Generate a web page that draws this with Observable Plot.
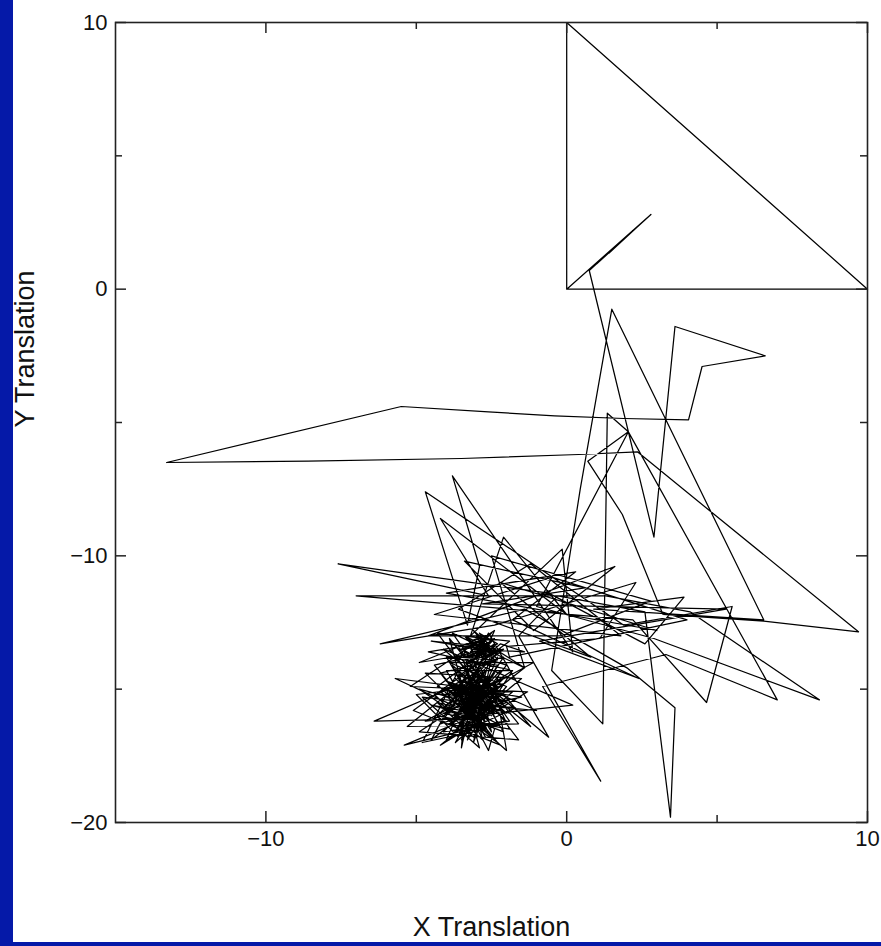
<!DOCTYPE html>
<html><head><meta charset="utf-8">
<script src="https://cdn.jsdelivr.net/npm/d3@7"></script>
<script src="https://cdn.jsdelivr.net/npm/@observablehq/plot@0.6"></script>
<style>
html,body{margin:0;padding:0;background:#0519a8;width:881px;height:946px;overflow:hidden}
#chart{position:absolute;left:13px;top:0;width:868px;height:942px;background:#fff}
svg{display:block}
</style></head><body><div id="chart"></div>
<script>
// Trajectory (X Translation, Y Translation), in drawing order, split into pieces
const insetLoop = [[0,0],[0,10],[10,0],[0,0],[2.8,2.8],[1.0,0.95],[2.55,2.55],[1.4,1.35],[2.2,2.2],[0.75,0.7]];
const upperExcursion = [[2.9,-9.3],[3.6,-1.4],[6.6,-2.5],[4.5,-2.9],[4.05,-4.9],[1.9,-4.85],[-0.4,-4.75],[-2.6,-4.6],[-5.5,-4.4],
  [-13.3,-6.5],[-8.6,-6.45],[-3.5,-6.35],[0.4,-6.2],[2.35,-6.1],[9.7,-12.85],[6.55,-12.45],[3.2,-12.2],[1.85,-8.45],
  [0.7,-6.45],[2.05,-5.35],[1.35,-4.65],[1.2,-16.3],[-0.5,-14.3],[0.45,-7.5],[1.5,-0.75],[6.55,-12.4],[0.9,-12.0]];
const middleTangle = [[3.9,-11.55],[2.6,-13.3],[-0.6,-11.4],[-7.6,-10.3],[-2.6,-11.5],[-4.2,-8.6],[0.0,-12.2],[-2.1,-9.3],
  [-3.2,-13.0],[-0.15,-9.75],[0.2,-13.6],[-3.8,-7.0],[-2.9,-10.4],[-3.3,-12.6],[-4.7,-7.6],[1.9,-12.6],[5.5,-11.9],
  [4.65,-15.5],[2.2,-12.4],[-7.0,-11.5],[1.3,-11.5],[4.1,-12.1],[8.4,-15.4],[2.9,-13.1],[-1.0,-11.9],[2.05,-5.35],
  [7.0,-15.4],[3.3,-13.7],[-0.8,-14.9],[1.13,-18.45],[-1.6,-13.0],[-0.3,-11.5],[2.6,-12.1],[3.45,-19.8],[3.6,-15.7],
  [2.0,-14.2],[-1.4,-12.0],[-6.2,-13.3],[-2.4,-12.6],[2.3,-11.0],[1.1,-13.1],[-2.0,-13.4]];
const tangleMore = [[-1.9,-13.8],[4.0,-12.4],[-0.5,-10.8],[-4.4,-12.2],[1.8,-13.0],[-1.2,-10.3],[-3.6,-12.0],[0.8,-13.8],
  [-2.2,-11.0],[3.0,-12.8],[-4.0,-11.4],[0.3,-10.6],[-1.8,-12.4],[2.4,-14.6],[-0.9,-13.2],[5.3,-12.0],[-2.8,-11.8],
  [0.6,-11.2],[-3.4,-10.2],[-1.1,-12.8],[1.6,-10.4],[-4.6,-13.0],[-0.2,-13.0],[2.8,-11.7],[-2.5,-10.0],[-1.4,-14.2]];
const upperBlob = [[-2.8,-13.2],[-3.2,-13.6],[-2.5,-13.5],[-3.0,-13.0],[-2.6,-13.8],[-3.3,-13.3],[-2.4,-13.1],[-2.9,-13.7],
  [-3.4,-13.0],[-2.7,-13.4],[-4.5,-13.2],[-2.3,-13.6],[-3.1,-13.9],[-2.6,-13.0],[-3.5,-13.5],[-2.8,-13.9],[-2.2,-13.3],
  [-1.4,-13.6],[-3.0,-13.5],[-2.5,-12.9],[-3.2,-13.2],[-2.7,-13.7],[-3.6,-13.8],[-2.4,-13.9],[-2.9,-13.1],[-4.9,-14.0],
  [-3.3,-13.7],[-2.6,-13.3],[-3.1,-12.8],[-2.3,-13.9],[-3.0,-14.1],[-2.7,-13.1],[-3.4,-13.5],
  [-2.9,-13.4],[-2.5,-13.2],[-3.1,-13.5],[-2.6,-13.6],[-3.3,-13.1],[-2.8,-13.8],[-2.4,-13.4],[-3.0,-13.7],[-2.7,-13.0],
  [-3.2,-13.9],[-2.5,-13.7],[-2.9,-12.9],[-2.3,-13.3],[-3.4,-13.8],[-2.6,-13.5],[-3.0,-13.3]];
const clusterFringe = [[-4.6,-13.6],[-1.8,-14.3],[-4.9,-16.6],[-1.6,-16.9],[-4.3,-12.9],[-1.9,-13.2],[-5.1,-15.8],[-2.2,-17.1],
  [-4.7,-14.4],[-1.5,-14.6],[-4.2,-17.1],[-1.3,-15.1],[-5.2,-14.9],[-2.4,-12.8],[-4.0,-16.9],[-1.7,-15.7],[-4.8,-15.3],
  [-2.9,-17.2],[-3.9,-13.1],[-1.6,-16.3],[-5.3,-16.4],[-2.1,-13.5],[-4.4,-14.1],[-2.3,-17.0],[-4.9,-15.0],[-1.9,-15.9],
  [-3.8,-12.9],[-1.4,-14.2],[-4.5,-16.9],[-2.6,-12.9],[-0.6,-16.8],[-4.1,-13.5],[0.2,-15.6],[-4.7,-16.2],[-1.1,-14.0]];
const clusterCore = [[-3.9,-14.0],[-2.0,-14.9],[-3.5,-16.9],[-2.3,-13.8],[-4.1,-15.7],[-2.1,-16.6],[-3.7,-13.7],[-1.9,-15.4],
  [-4.2,-16.3],[-2.5,-13.6],[-3.3,-16.9],[-1.8,-14.3],[-4.0,-14.3],[-2.7,-16.8],[-3.8,-14.1],[-2.0,-15.9],[-4.3,-14.9],
  [-2.4,-13.3],[-3.1,-17.0],[-2.2,-14.3],[-4.1,-16.6],[-1.9,-16.2],[-3.6,-13.4],[-2.6,-16.7],[-4.2,-14.4],[-2.1,-13.8],
  [-3.9,-16.9],[-2.0,-14.1],[-3.4,-13.6],[-2.8,-16.9],[-4.4,-15.2],[-1.8,-15.1],[-3.7,-17.0],[-2.3,-14.1],[-4.0,-13.8],
  [-2.5,-16.6],[-3.2,-13.4],[-1.9,-16.5],[-4.3,-16.0],[-2.2,-13.5]];
const lowerBlob = [[-3.6,-14.5],[-2.5,-14.8],[-3.2,-15.4],[-2.2,-15.1],[-5.7,-14.6],[-3.8,-15.6],[-2.7,-14.3],[-3.4,-16.0],
  [-2.4,-15.7],[-3.9,-14.8],[-2.9,-15.5],[-2.1,-14.6],[-3.5,-15.2],[-2.6,-16.1],[-6.4,-16.2],[-3.1,-14.6],[-4.0,-15.3],
  [-2.8,-15.0],[-2.3,-16.3],[-3.3,-15.7],[-1.5,-15.3],[-3.7,-14.9],[-2.5,-15.3],[-3.0,-16.2],[-4.1,-15.9],[-2.7,-15.8],
  [-3.4,-14.7],[-2.0,-15.5],[-5.4,-17.1],[-3.2,-16.5],[-3.6,-15.1],[-2.6,-14.6],[-3.9,-16.3],[-2.9,-14.8],[-2.2,-16.0],
  [-2.0,-17.3],[-3.5,-15.8],[-3.0,-15.2],[-2.4,-14.4],[-3.7,-16.6],[-2.8,-16.0],[-3.3,-14.5],[-1.2,-16.4],[-2.1,-15.2],
  [-3.8,-15.2],[-2.6,-15.5],[-3.1,-16.8],[-4.3,-15.5],[-2.9,-15.9],[-2.3,-14.9],[-3.4,-15.4],[-2.7,-16.5],[-4.8,-17.0],
  [-3.6,-14.3],[-2.5,-16.0],[-4.0,-14.7],[-3.2,-15.0],[-2.0,-16.2],[-3.5,-16.4],[-2.8,-14.5],[-3.9,-15.5],[-1.0,-15.8],
  [-2.4,-15.1],[-3.0,-16.6],[-4.4,-16.1],[-2.6,-15.0],[-3.3,-16.1],[-2.2,-15.8],[-3.7,-15.4],[-2.9,-14.2],[-3.5,-17.2],
  [-3.4,-15.9],[-2.5,-15.5],[-3.1,-15.6],[-3.8,-16.0],[-2.7,-15.2],[-2.1,-14.8],[-5.0,-15.2],[-3.6,-16.8],[-3.0,-14.4],
  [-4.2,-15.1],[-2.8,-16.3],[-3.3,-15.2],[-2.4,-16.5],[-2.6,-17.3],[-3.9,-14.5],[-3.2,-15.8],[-2.6,-14.8],[-3.5,-15.0],
  [-2.3,-15.4],[-3.0,-15.9],[-4.5,-15.6],[-2.9,-16.1],[-3.6,-15.6],[-2.2,-14.9],
  [-3.4,-15.1],[-2.8,-15.6],[-3.7,-14.6],[-3.1,-15.3],[-2.5,-14.5],[-3.3,-15.9],[-2.9,-15.0],[-3.6,-15.9],[-2.7,-14.7],
  [-3.2,-14.8],[-3.9,-15.1],[-2.4,-15.9],[-3.0,-14.9],[-3.5,-15.5],[-2.6,-15.7],[-3.8,-14.8],[-3.1,-15.0],[-2.8,-14.4]];

const xMajorTicks = [-10, 0, 10];
const xMinorTicks = [-5, 5];
const yMajorTicks = [10, 0, -10, -20];
const yMinorTicks = [5, -5, -15];
const xLabel = "X Translation";
const yLabel = "Y Translation";

const path = [...insetLoop, ...upperExcursion, ...middleTangle, ...tangleMore, ...upperBlob, ...clusterFringe,
  ...clusterCore, ...lowerBlob].map(([x, y]) => ({x, y}));

const W = 868, H = 942, mL = 102, mR = 14, mT = 22, mB = 120;
const fw = W - mL - mR, fh = H - mT - mB;
const tickStyle = {stroke: "#222", strokeWidth: 1.5};

const chart = Plot.plot({
  width: W, height: H,
  marginLeft: mL, marginRight: mR, marginTop: mT, marginBottom: mB,
  style: {fontFamily: "'Liberation Sans', Arial, Helvetica, sans-serif", background: "white", color: "#111", overflow: "visible"},
  x: {domain: [-15, 10]},
  y: {domain: [-20, 10]},
  marks: [
    Plot.line(path, {x: "x", y: "y", stroke: "black", strokeWidth: 1.25}),
    Plot.tickX(xMajorTicks, {x: d => d, insetTop: fh - 11, ...tickStyle}),
    Plot.tickX(xMinorTicks, {x: d => d, insetTop: fh - 7, ...tickStyle}),
    Plot.tickX(xMajorTicks, {x: d => d, insetBottom: fh - 11, ...tickStyle}),
    Plot.tickX(xMinorTicks, {x: d => d, insetBottom: fh - 7, ...tickStyle}),
    Plot.tickY(yMajorTicks, {y: d => d, insetRight: fw - 11, ...tickStyle}),
    Plot.tickY(yMinorTicks, {y: d => d, insetRight: fw - 7, ...tickStyle}),
    Plot.tickY(yMajorTicks, {y: d => d, insetLeft: fw - 11, ...tickStyle}),
    Plot.tickY(yMinorTicks, {y: d => d, insetLeft: fw - 7, ...tickStyle}),
    Plot.frame({stroke: "#222", strokeWidth: 1.6}),
    Plot.axisX(xMajorTicks, {anchor: "bottom", tickSize: 0, tickPadding: 8, fontSize: 22, label: null}),
    Plot.axisY(yMajorTicks, {anchor: "left", tickSize: 0, tickPadding: 8, fontSize: 22, label: null}),
    Plot.text([xLabel], {frameAnchor: "bottom", dy: 105, fontSize: 27, lineAnchor: "middle", text: d => d, fill: "#111"}),
    Plot.text([yLabel], {frameAnchor: "left", dx: -90, dy: 5, rotate: -90, fontSize: 27, text: d => d, fill: "#111"})
  ]
});
document.getElementById("chart").append(chart);
</script>
</body></html>
